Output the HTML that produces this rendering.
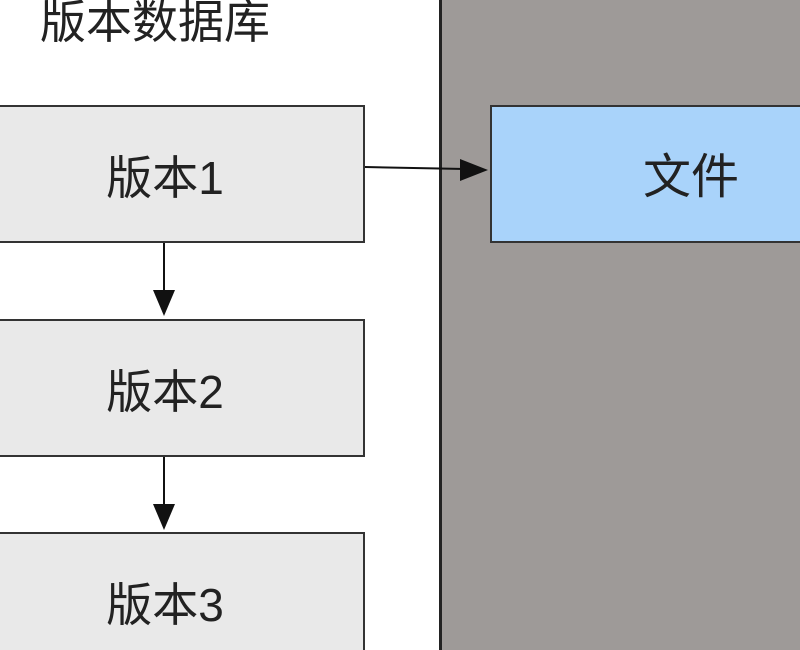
<!DOCTYPE html>
<html><head><meta charset="utf-8"><style>
html,body{margin:0;width:800px;height:650px;overflow:hidden;}
body{background:#fff;position:relative;font-family:"Liberation Sans","Noto Sans CJK SC",sans-serif;}
.a{position:absolute;}
.box{position:absolute;background:#e9e9e9;border:2px solid #333;box-sizing:border-box;}
.t{position:absolute;font-size:46px;color:#222;line-height:50px;width:300px;text-align:center;}
</style></head><body>
<div class="a" style="left:441px;top:0;width:359px;height:650px;background:#9e9a98"></div>
<div class="a" style="left:439px;top:0;width:3px;height:650px;background:#222"></div>
<div class="a" style="left:40px;top:-3px;font-size:46px;color:#222;line-height:50px">版本数据库</div>
<div class="box" style="left:-4px;top:105px;width:369px;height:138px"></div>
<div class="box" style="left:-4px;top:319px;width:369px;height:138px"></div>
<div class="box" style="left:-4px;top:532px;width:369px;height:140px"></div>
<div class="box" style="left:490px;top:105px;width:320px;height:138px;background:#a9d3fa"></div>
<div class="t" style="left:15px;top:153px">版本1</div>
<div class="t" style="left:15px;top:367px">版本2</div>
<div class="t" style="left:15px;top:580px">版本3</div>
<div class="t" style="left:541px;top:153px;font-size:48px">文件</div>
<svg class="a" style="left:0;top:0" width="800" height="650">
<line x1="365" y1="167" x2="465" y2="169" stroke="#111" stroke-width="2"/>
<polygon points="488,170 460,159 460,181" fill="#111"/>
<line x1="164" y1="243" x2="164" y2="292" stroke="#111" stroke-width="2"/>
<polygon points="164,316 153,290 175,290" fill="#111"/>
<line x1="164" y1="457" x2="164" y2="506" stroke="#111" stroke-width="2"/>
<polygon points="164,530 153,504 175,504" fill="#111"/>
</svg>
</body></html>
